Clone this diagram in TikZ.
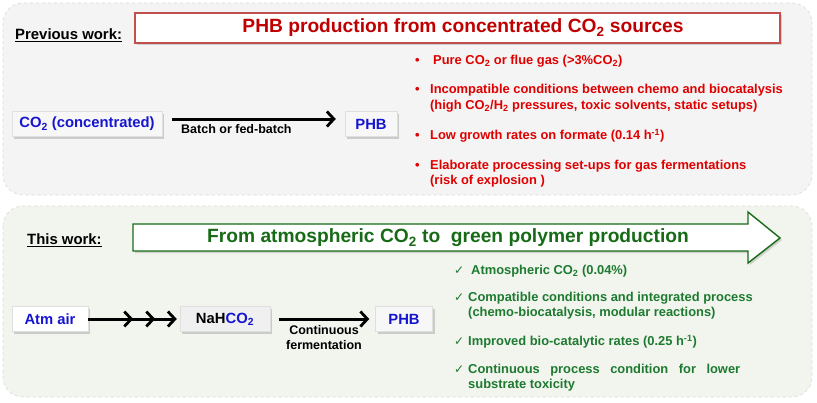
\documentclass[tikz,border=0pt]{standalone}
\usepackage{fontspec}
\setmainfont{Liberation Sans}
\newfontfamily\symfont{DejaVu Sans}
\usetikzlibrary{arrows.meta,shadows,decorations.markings}
\definecolor{panelgray}{HTML}{F4F4F4}
\definecolor{panelgreen}{HTML}{F1F5EE}
\definecolor{titlered}{HTML}{C00000}
\definecolor{boxred}{HTML}{C0504D}
\definecolor{bulred}{HTML}{E00000}
\definecolor{titlegreen}{HTML}{176B17}
\definecolor{chkgreen}{HTML}{1E7A30}
\definecolor{blu}{HTML}{1515D0}
\tikzset{
  panel/.style={draw=gray!30, dashed, rounded corners=20pt, line width=0.6pt},
  chem/.style={draw=gray!25, fill=gray!6, minimum height=25pt, inner sep=3pt,
    font=\bfseries\fontsize{14.8}{16}\selectfont, drop shadow={shadow xshift=2pt, shadow yshift=-2pt, opacity=0.35}},
  lbl/.style={font=\bfseries\fontsize{12.5}{15}\selectfont, inner sep=0pt},
  redtxt/.style={anchor=west, inner sep=0pt, text=bulred, font=\bfseries\fontsize{12.9}{14}\selectfont},
  grntxt/.style={anchor=west, inner sep=0pt, text=chkgreen, font=\bfseries\fontsize{12.9}{14}\selectfont},
  flow/.style={line width=3pt, -{Straight Barb[length=7pt,width=15pt,line width=2.8pt]}, shorten >=1pt},
  headlbl/.style={font=\bfseries\fontsize{14.9}{16}\selectfont, inner sep=0pt},
  chk/.style={anchor=west, inner sep=0pt, text=chkgreen, font=\symfont\fontsize{12}{13}\selectfont},
}
\begin{document}
\begin{tikzpicture}[x=1pt,y=-1pt]
\useasboundingbox (0,0) rectangle (817,402);
% panels
\draw[panel, fill=panelgray] (3,3) rectangle (812,195);
\draw[panel, fill=panelgreen] (3,206) rectangle (812,397);

% ---------- top ----------
\node[headlbl, anchor=west] (prev) at (15,35) {\underline{Previous work:}};
\draw[draw=boxred, line width=1.4pt, fill=white, drop shadow={shadow xshift=2pt, shadow yshift=-2pt, opacity=0.3}] (135,13) rectangle (780,43);
\node[text=titlered, font=\bfseries\fontsize{19.2}{21}\selectfont, inner sep=0pt] (ttop) at (463,28) {PHB production from concentrated CO\textsubscript{2} sources};

\node[chem, text=blu, minimum width=150pt] (co2) at (87,124) {CO\textsubscript{2} (concentrated)};
\node[chem, text=blu, minimum width=52pt] (phb1) at (371,124) {PHB};
\draw[flow] ([xshift=10pt,yshift=5pt]co2.east) -- ([xshift=-8pt,yshift=5pt]phb1.west);
\node[lbl, anchor=west] (batch) at (181,129) {Batch or fed-batch};

\node[redtxt] (r1b) at (415,61) {\textbullet};
\node[redtxt] (r1) at (433,61) {Pure CO\textsubscript{2} or flue gas (>3\%CO\textsubscript{2})};
\node[redtxt] (r2b) at (415,90) {\textbullet};
\node[redtxt] (r2) at (430,90) {Incompatible conditions between chemo and biocatalysis};
\node[redtxt] (r2c) at (430,106) {(high CO\textsubscript{2}/H\textsubscript{2} pressures, toxic solvents, static setups)};
\node[redtxt] (r3b) at (415,136) {\textbullet};
\node[redtxt] (r3) at (430,136) {Low growth rates on formate (0.14 h\textsuperscript{-1})};
\node[redtxt] (r4b) at (415,166) {\textbullet};
\node[redtxt] (r4) at (430,166) {Elaborate processing set-ups for gas fermentations};
\node[redtxt] (r4c) at (430,181) {(risk of explosion )};

% ---------- bottom ----------
\node[headlbl, anchor=west] (this) at (27,240) {\underline{This work:}};
\draw[draw=titlegreen, line width=1.4pt, fill=white, drop shadow={shadow xshift=2pt, shadow yshift=-2pt, opacity=0.3}]
  (133,224) -- (748,224) -- (748,212) -- (780,238) -- (748,263) -- (748,251) -- (133,251) -- cycle;
\node[text=titlegreen, font=\bfseries\fontsize{19.2}{21}\selectfont, inner sep=0pt] (tbot) at (448,238) {From atmospheric CO\textsubscript{2} to\ \ green polymer production};

\node[chem, text=blu, fill=white, minimum width=76pt] (atm) at (50,319) {Atm air};
\node[chem, fill=gray!12, minimum width=90pt] (nah) at (225,319) {NaH\textcolor{blu}{CO\textsubscript{2}}};
\node[chem, text=blu, minimum width=57pt] (phb2) at (404,319) {PHB};
\draw[flow, postaction={decorate}, decoration={markings,
   mark=at position 45pt with {\arrow{Straight Barb[length=7pt,width=15pt,line width=2.8pt]}},
   mark=at position 67pt with {\arrow{Straight Barb[length=7pt,width=15pt,line width=2.8pt]}}}]
   (atm.east) -- ([xshift=-2pt]nah.west);
\draw[flow] ([xshift=9pt]nah.east) -- ([xshift=-5pt]phb2.west);
\node[lbl, align=center] (cont) at (324,338) {Continuous\\fermentation};

\node[chk] (g1b) at (454,271) {✓};
\node[grntxt] (g1) at (471,271) {Atmospheric CO\textsubscript{2} (0.04\%)};
\node[chk] (g2b) at (454,298) {✓};
\node[grntxt] (g2) at (468,298) {Compatible conditions and integrated process};
\node[grntxt] (g2c) at (468,313) {(chemo-biocatalysis, modular reactions)};
\node[chk] (g3b) at (454,342) {✓};
\node[grntxt] (g3) at (468,342) {Improved bio-catalytic rates (0.25 h\textsuperscript{-1})};
\node[chk] (g4b) at (454,370) {✓};
\node[grntxt] (g4) at (468,370) {\makebox[272pt][s]{Continuous process condition for lower}};
\node[grntxt] (g4c) at (468,385) {substrate toxicity};
\end{tikzpicture}
\end{document}
